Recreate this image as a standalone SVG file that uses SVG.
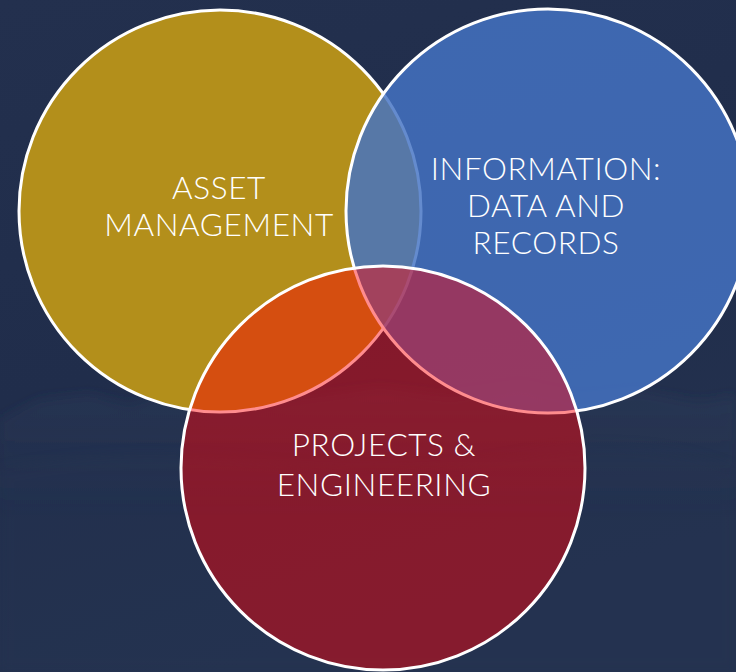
<svg xmlns="http://www.w3.org/2000/svg" width="736" height="672" viewBox="0 0 736 672">
  <defs>
    <linearGradient id="bg" x1="0" y1="0" x2="0.3" y2="1">
      <stop offset="0" stop-color="#23304e"/>
      <stop offset="0.55" stop-color="#202d4b"/>
      <stop offset="1" stop-color="#24324f"/>
    </linearGradient>
    <linearGradient id="mtn" x1="0" y1="0" x2="0" y2="1">
      <stop offset="0" stop-color="#33425f" stop-opacity="0.35"/>
      <stop offset="1" stop-color="#2a3854" stop-opacity="0"/>
    </linearGradient>
    <filter id="soft" x="-5%" y="-20%" width="110%" height="140%">
      <feGaussianBlur stdDeviation="6"/>
    </filter>
  </defs>
  <style>
    .ring { stroke: #ffffff; stroke-width: 3; }
    .label { font-family: Lato, "Open Sans", "Liberation Sans", sans-serif; font-weight: 300; font-size: 31.5px; letter-spacing: 0.6px; fill: #ffffff; text-anchor: middle; }
  </style>
  <rect x="0" y="0" width="736" height="672" fill="url(#bg)"/>
  <path d="M0 420 L40 400 L90 395 L130 405 L170 392 L230 410 L300 398 L380 388 L450 396 L520 386 L580 398 L640 392 L700 402 L736 396 L736 520 L0 520 Z" fill="url(#mtn)" filter="url(#soft)"/>
  <path d="M0 470 Q120 445 260 462 T520 455 T736 470 L736 672 L0 672 Z" fill="#283652" opacity="0.3" filter="url(#soft)"/>

  <g id="asset-management">
    <circle class="ring" cx="220" cy="211" r="201" fill="#b38f1b"/>
    <text class="label" x="219" y="199">ASSET</text>
    <text class="label" x="219" y="236">MANAGEMENT</text>
  </g>

  <g id="information">
    <circle class="ring" cx="548" cy="211" r="202" fill="rgb(69,115,196)" fill-opacity="0.83"/>
    <text class="label" x="546" y="180">INFORMATION:</text>
    <text class="label" x="546" y="217">DATA AND</text>
    <text class="label" x="546" y="254">RECORDS</text>
  </g>

  <g id="projects-engineering">
    <circle class="ring" cx="383" cy="468" r="202" fill="rgb(255,0,5)" fill-opacity="0.45"/>
    <text class="label" x="384" y="456">PROJECTS &amp;</text>
    <text class="label" x="384" y="496">ENGINEERING</text>
  </g>
</svg>
